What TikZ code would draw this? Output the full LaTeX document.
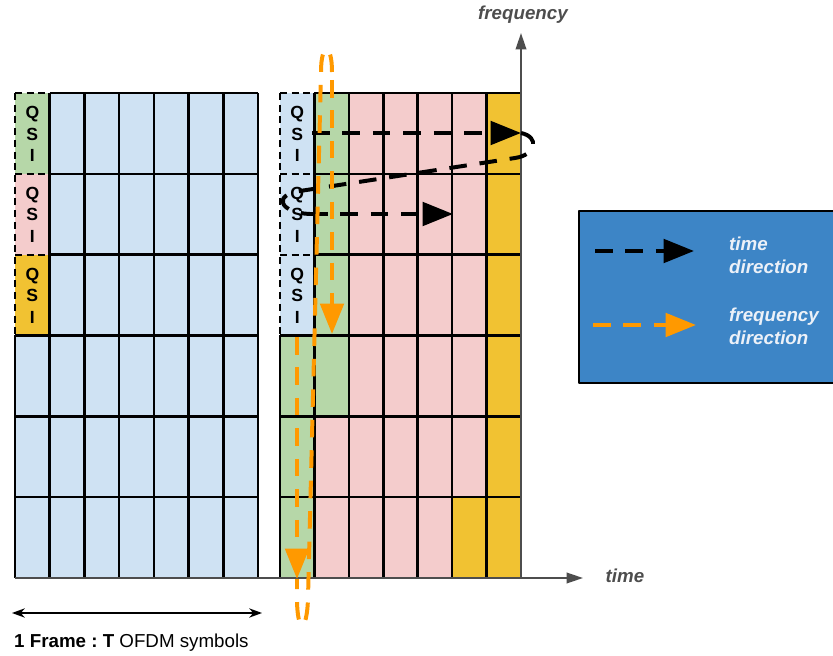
\documentclass[tikz,border=0pt]{standalone}
\usepackage{fontspec}
\setmainfont{Liberation Sans}
\usetikzlibrary{arrows.meta}
\frenchspacing
\definecolor{cellblue}{RGB}{207,226,243}
\definecolor{cellgreen}{RGB}{182,215,168}
\definecolor{cellpink}{RGB}{244,204,204}
\definecolor{cellyellow}{RGB}{241,194,50}
\definecolor{legendblue}{RGB}{61,133,198}
\definecolor{dirorange}{RGB}{255,153,0}
\definecolor{axisgray}{RGB}{77,77,77}
\definecolor{legendtext}{RGB}{236,241,248}
\tikzset{
  gridline/.style={black,line width=2.2pt},
  qsiline/.style={black,line width=1.9pt,dash pattern=on 6pt off 4pt},
  qsi/.style={font=\bfseries\fontsize{15}{18.5}\selectfont,align=center,inner sep=0pt},
  axisline/.style={axisgray,line width=1.7pt,-{Triangle[length=14pt,width=9pt]}},
  dirarrow/.style={line width=3.4pt,dash pattern=on 15pt off 11pt,-{Triangle[length=26pt,width=20pt]}},
  dirback/.style={line width=3.4pt,dash pattern=on 15pt off 11pt},
  axislabel/.style={axisgray,font=\bfseries\itshape\fontsize{16}{19}\selectfont},
  legendlabel/.style={legendtext,font=\bfseries\itshape\fontsize{16}{19.5}\selectfont,align=left,anchor=west,inner sep=0pt}
}
\begin{document}
\begin{tikzpicture}[x=0.03cm,y=-0.03cm,line join=round]
  \useasboundingbox (0,0) rectangle (833,656);
  % left frame
  \fill[cellblue] (15,93) rectangle (258,578);
  \fill[cellgreen] (15,93) rectangle (49.71,173.83);
  \fill[cellpink] (15,173.83) rectangle (49.71,254.67);
  \fill[cellyellow] (15,254.67) rectangle (49.71,335.5);
  % right frame
  \fill[cellpink] (280,93) rectangle (521,578);
  \fill[cellblue] (280,93) rectangle (314.43,335.5);
  \fill[cellgreen] (280,335.5) rectangle (314.43,578);
  \fill[cellgreen] (314.43,93) rectangle (348.86,416.33);
  \fill[cellyellow] (486.57,93) rectangle (521,578);
  \fill[cellyellow] (452.14,497.17) rectangle (486.57,578);
  \foreach \ox/\w in {15/34.714,280/34.429}{
    \foreach \i in {1,...,7} \draw[gridline] ({\ox+\i*\w},93) -- ({\ox+\i*\w},578);
    \draw[gridline] (\ox,335.5) -- (\ox,578);
    \draw[qsiline] (\ox,93) -- (\ox,335.5);
    \foreach \j in {0,...,6} \draw[gridline] ({\ox+\w},{93+\j*80.833}) -- ({\ox+7*\w},{93+\j*80.833});
    \foreach \j in {0,1,2} \draw[qsiline] (\ox,{93+\j*80.833}) -- ({\ox+\w},{93+\j*80.833});
    \foreach \j in {3,...,6} \draw[gridline] (\ox,{93+\j*80.833}) -- ({\ox+\w},{93+\j*80.833});
    \foreach \j in {0,1,2} \node[qsi] (qsi-\ox-\j) at ({\ox+\w/2},{134+\j*80.833}) {Q\\S\\I};
  }
  % axes
  \coordinate (origin) at (521,578);
  \coordinate (tstart) at (15,578);
  \coordinate (tend) at (583,578);
  \coordinate (fend) at (521,33);
  \draw[axisline] (tstart) -- (tend);
  \draw[axisline] (origin) -- (fend);
  \node[axislabel] (freqaxis) at (523,15) {frequency};
  \node[axislabel] (timeaxis) at (625,576) {time};
  % time direction
  \coordinate (ta) at (312,133);
  \coordinate (tb) at (521,133);
  \coordinate (tc) at (310,214);
  \coordinate (td) at (453,214);
  \draw[dirarrow] (ta) -- (tb);
  \draw[dirback] (tb) .. controls (540,137) and (536,155) .. (515,158) -- (300,191)
    .. controls (272,195) and (280,213) .. (tc);
  \draw[dirarrow] (tc) -- (td);
  % frequency direction
  \coordinate (fa) at (332,80);
  \coordinate (fb) at (332,334);
  \coordinate (fc) at (297,337);
  \coordinate (fd) at (297,579);
  \draw[dirarrow,dirorange] (fa) -- (fb);
  \draw[dirback,dirorange] (332,72) .. controls (332,42) and (321,42) .. (321,72) -- (308,598)
    .. controls (307,634) and (297,634) .. (297,598) -- (fd);
  \draw[dirarrow,dirorange] (fc) -- (fd);
  % legend
  \draw[black,line width=1.5pt,fill=legendblue] (579,211) rectangle (840,383);
  \coordinate (lta) at (595,251);
  \coordinate (ltb) at (694,251);
  \coordinate (lfa) at (593,325);
  \coordinate (lfb) at (696,325);
  \draw[dirarrow] (lta) -- (ltb);
  \draw[dirarrow,dirorange] (lfa) -- (lfb);
  \node[legendlabel] (timelbl) at (729,255) {time\\direction};
  \node[legendlabel] (freqlbl) at (729,326) {frequency\\direction};
  % frame length
  \coordinate (fl) at (12,613);
  \coordinate (fr) at (262,613);
  \draw[{Stealth[length=11pt,width=8pt]}-{Stealth[length=11pt,width=8pt]},line width=1.1pt] (fl) -- (fr);
  \node[anchor=west,inner sep=0pt,font=\fontsize{16}{19}\selectfont] (framelbl) at (14,643) {\textbf{1 Frame : T} OFDM symbols};
\end{tikzpicture}
\end{document}
